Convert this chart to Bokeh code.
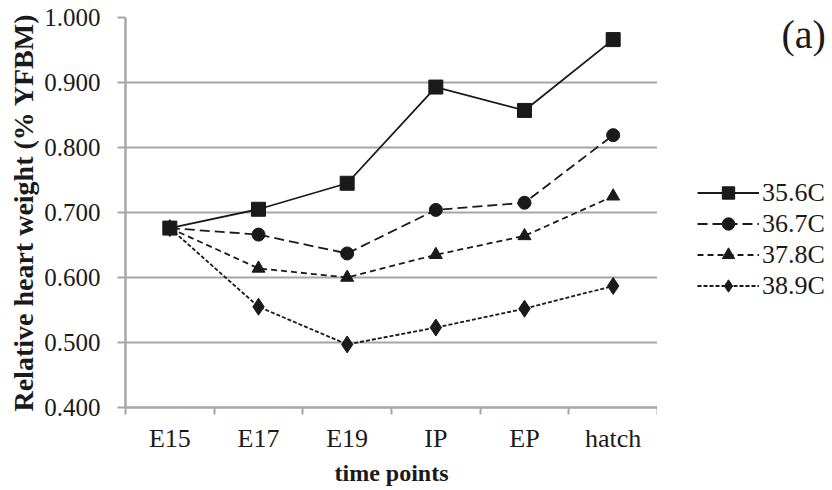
from bokeh.plotting import figure
from bokeh.layouts import row
from bokeh.models import FixedTicker, NumeralTickFormatter, Legend, LegendItem, Label, Range1d
from bokeh.embed import file_html
from bokeh.resources import INLINE

categories = ["E15", "E17", "E19", "IP", "EP", "hatch"]
s356 = [0.676, 0.705, 0.745, 0.893, 0.857, 0.966]
s367 = [0.676, 0.666, 0.637, 0.704, 0.715, 0.819]
s378 = [0.676, 0.614, 0.600, 0.635, 0.664, 0.725]
s389 = [0.676, 0.555, 0.497, 0.523, 0.552, 0.587]
series_names = ["35.6C", "36.7C", "37.8C", "38.9C"]
y_ticks = [0.4, 0.5, 0.6, 0.7, 0.8, 0.9, 1.0]

FONT = "Liberation Serif"
INK = "#1a1a1a"
GRID = "#a6a6a6"

xs = [i + 0.5 for i in range(len(categories))]

p = figure(frame_width=532, frame_height=390, output_backend="svg", toolbar_location=None,
           x_range=Range1d(0, len(categories)), y_range=Range1d(0.4, 1.0))
p.min_border_left = 125
p.min_border_right = 0
p.min_border_top = 17
p.min_border_bottom = 83
p.outline_line_color = None
p.background_fill_color = "white"

# x axis
p.xaxis.ticker = FixedTicker(ticks=xs, minor_ticks=list(range(len(categories) + 1)))
p.xaxis.major_label_overrides = {x: c for x, c in zip(xs, categories)}
p.xaxis.major_tick_line_color = None
p.xaxis.minor_tick_line_color = GRID
p.xaxis.minor_tick_line_width = 2
p.xaxis.minor_tick_out = 7
p.xaxis.minor_tick_in = 0
p.xaxis.axis_line_color = GRID
p.xaxis.axis_line_width = 2.5
p.xaxis.major_label_text_font = FONT
p.xaxis.major_label_text_font_size = "26px"
p.xaxis.major_label_text_color = INK
p.xaxis.major_label_standoff = 9
p.xaxis.axis_label = "time points"
p.xaxis.axis_label_text_font = FONT
p.xaxis.axis_label_text_font_style = "bold"
p.xaxis.axis_label_text_font_size = "24px"
p.xaxis.axis_label_text_color = INK
p.xaxis.axis_label_standoff = 4

# y axis
p.yaxis.ticker = FixedTicker(ticks=y_ticks)
p.yaxis.formatter = NumeralTickFormatter(format="0.000")
p.yaxis.major_tick_line_color = GRID
p.yaxis.major_tick_line_width = 2
p.yaxis.major_tick_out = 8
p.yaxis.major_tick_in = 0
p.yaxis.minor_tick_line_color = None
p.yaxis.axis_line_color = GRID
p.yaxis.axis_line_width = 2.5
p.yaxis.major_label_text_font = FONT
p.yaxis.major_label_text_font_size = "25px"
p.yaxis.major_label_text_color = INK
p.yaxis.major_label_standoff = 17
p.yaxis.axis_label = "Relative heart weight (% YFBM)"
p.yaxis.axis_label_text_font = FONT
p.yaxis.axis_label_text_font_style = "bold"
p.yaxis.axis_label_text_font_size = "28px"
p.yaxis.axis_label_text_color = INK
p.yaxis.axis_label_standoff = 2

p.xgrid.grid_line_color = None
p.ygrid.ticker = FixedTicker(ticks=y_ticks)
p.ygrid.grid_line_color = GRID
p.ygrid.grid_line_width = 2

styles = [
    (s356, "solid", "square", 14),
    (s367, "10 5", "circle", 13),
    (s378, "6 4", "triangle", 13),
    (s389, "4 2", "diamond", 17),
]

# side panel holding the legend and the panel tag
q = figure(width=175, height=490, output_backend="svg", toolbar_location=None,
           x_range=Range1d(0, len(categories)), y_range=Range1d(0.4, 1.0),
           min_border=0)
q.axis.visible = False
q.grid.visible = False
q.outline_line_color = None

items = []
for name, (vals, dash, marker, size) in zip(series_names, styles):
    p.line(xs, vals, line_color=INK, line_width=1.8, line_dash=dash)
    p.scatter(xs, vals, marker=marker, size=size, fill_color=INK, line_color=INK)
    lq = q.line(xs, vals, line_color=INK, line_width=1.8, line_dash=dash, visible=False)
    mq = q.scatter(xs, vals, marker=marker, size=size, fill_color=INK, line_color=INK,
                   visible=False)
    items.append(LegendItem(label=name, renderers=[lq, mq]))

legend = Legend(items=items, location=(40, 106), orientation="vertical",
                label_text_font=FONT, label_text_font_size="26px",
                label_text_color=INK, glyph_width=62, glyph_height=31,
                label_height=31, label_standoff=3, spacing=0,
                border_line_color=None, background_fill_alpha=0,
                inactive_fill_alpha=0, padding=0, margin=0)
q.add_layout(legend, "center")

q.add_layout(Label(x=124, y=373, x_units="screen", y_units="screen", text="(a)",
                   text_baseline="middle", text_font=FONT, text_font_size="40px",
                   text_color=INK))

layout = row(p, q, spacing=0)
open("out.html", "w").write(file_html(layout, INLINE))
